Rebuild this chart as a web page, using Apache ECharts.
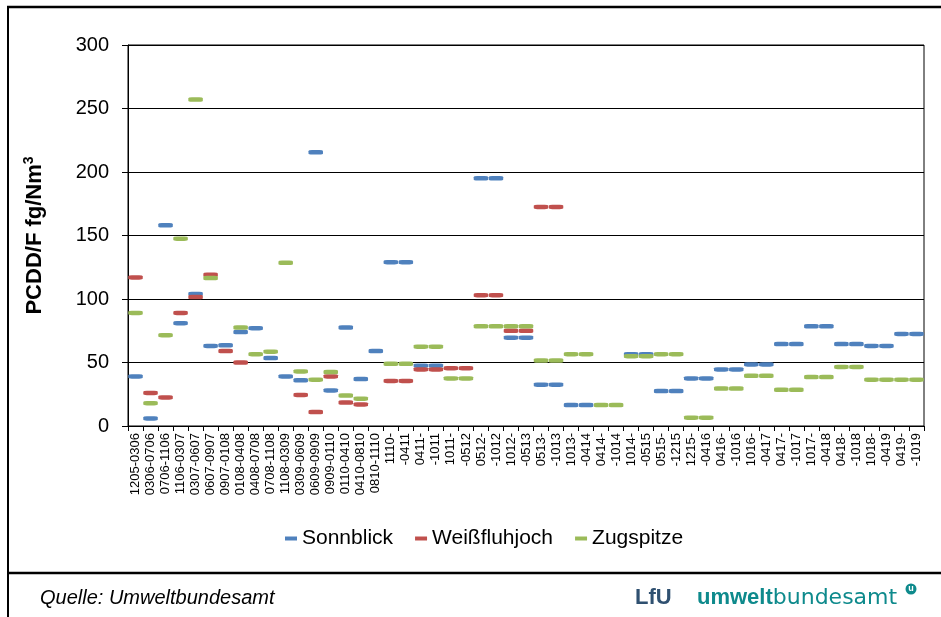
<!DOCTYPE html>
<html>
<head>
<meta charset="utf-8">
<script src="https://cdn.jsdelivr.net/npm/echarts@6/dist/echarts.min.js"></script>
<style>html,body{margin:0;padding:0;background:#fff;}#c{width:941px;height:617px;}</style>
</head>
<body>
<div id="c"></div>
<script>
const categories = [
  '1205-0306','0306-0706','0706-1106','1106-0307','0307-0607','0607-0907','0907-0108','0108-0408',
  '0408-0708','0708-1108','1108-0309','0309-0609','0609-0909','0909-0110','0110-0410','0410-0810',
  '0810-1110','1110-','-0411','0411-','-1011','1011-','-0512','0512-','-1012','1012-','-0513',
  '0513-','-1013','1013-','-0414','0414-','-1014','1014-','-0515','0515-','-1215','1215-','-0416',
  '0416-','-1016','1016-','-0417','0417-','-1017','1017-','-0418','0418-','-1018','1018-','-0419',
  '0419-','-1019'
];
const sonnblick = [
  39, 6, 158, 81, 104, 63, 63.5, 74, 77, 53.5, 39, 36, 215.5, 28, 77.5, 37, 59,
  129, 129, 47.5, 47.5, null, null, 195, 195, 69.5, 69.5, 32.5, 32.5, 16.5, 16.5,
  null, null, 56.5, 56.5, 27.5, 27.5, 37.5, 37.5, 44.5, 44.5, 48.5, 48.5, 64.5, 64.5,
  78.5, 78.5, 64.5, 64.5, 63, 63, 72.5, 72.5
];
const weissfluhjoch = [
  117, 26, 22.5, 89, 101.5, 119, 59, 50, null, null, null, 24.5, 11, 39, 18.5, 17, null,
  35.5, 35.5, 44.5, 44.5, 45.5, 45.5, 103, 103, 75, 75, 172.5, 172.5, null, null,
  null, null, null, null, null, null, null, null, null, null, null, null, null, null,
  null, null, null, null, null, null, null, null
];
const zugspitze = [
  89, 18, 71.5, 147.5, 257, 116.5, null, 77.5, 56.5, 58.5, 128.5, 43, 36.5, 42.5, 24, 21.5, null,
  49, 49, 62.5, 62.5, 37.5, 37.5, 78.5, 78.5, 78.5, 78.5, 51.5, 51.5, 56.5, 56.5,
  16.5, 16.5, 55, 55, 56.5, 56.5, 6.5, 6.5, 29.5, 29.5, 39.5, 39.5, 28.5, 28.5,
  38.5, 38.5, 46.5, 46.5, 36.5, 36.5, 36.5, 36.5
];
const yTicks = {min: 0, max: 300, interval: 50};

const chart = echarts.init(document.getElementById('c'), null, {renderer: 'canvas'});
const font = 'Liberation Sans, Arial, sans-serif';
function mk(name, data, color) {
  return {
    name: name, type: 'scatter', data: data,
    symbol: 'roundRect', symbolSize: [14.5, 4.5],
    itemStyle: {color: color, opacity: 1},
    emphasis: {disabled: true}, animation: false
  };
}
chart.setOption({
  backgroundColor: '#fff',
  animation: false,
  textStyle: {fontFamily: font},
  grid: {left: 128, right: 17, top: 45, bottom: 191, show: true, borderColor: '#000', borderWidth: 1, backgroundColor: 'transparent'},
  legend: {
    data: ['Sonnblick', 'Weißfluhjoch', 'Zugspitze'],
    left: 280, top: 523, icon: 'rect', itemWidth: 12, itemHeight: 4, itemGap: 22,
    textStyle: {fontSize: 21, color: '#000', fontFamily: font}
  },
  xAxis: {
    type: 'category', data: categories, boundaryGap: true,
    axisLine: {lineStyle: {color: '#000', width: 1}},
    axisTick: {show: true, interval: 0, length: 5, lineStyle: {color: '#000'}},
    axisLabel: {rotate: 90, interval: 0, fontSize: 13, color: '#000', margin: 7, fontFamily: font},
    splitLine: {show: false}
  },
  yAxis: {
    type: 'value', min: yTicks.min, max: yTicks.max, interval: yTicks.interval,
    name: '{a|PCDD/F fg/Nm}{s|3}', nameLocation: 'middle', nameGap: 80,
    nameTextStyle: {
      fontSize: 22, fontWeight: 'bold', color: '#000', fontFamily: font,
      rich: {
        a: {fontSize: 22, fontWeight: 'bold', color: '#000', fontFamily: font, lineHeight: 26},
        s: {fontSize: 14, fontWeight: 'bold', color: '#000', fontFamily: font, verticalAlign: 'top', lineHeight: 26, padding: [0, 0, 10, 0]}
      }
    },
    axisLine: {show: true, lineStyle: {color: '#000', width: 1}},
    axisTick: {show: true, length: 6, lineStyle: {color: '#000'}},
    axisLabel: {fontSize: 20, color: '#000', margin: 19, fontFamily: font},
    splitLine: {show: true, lineStyle: {color: '#000', width: 1}}
  },
  series: [
    mk('Sonnblick', sonnblick, '#4F81BD'),
    mk('Weißfluhjoch', weissfluhjoch, '#C0504D'),
    mk('Zugspitze', zugspitze, '#9BBB59')
  ],
  graphic: [
    {type: 'line', shape: {x1: 7, y1: 7, x2: 941, y2: 7}, style: {stroke: '#000', lineWidth: 2.5}},
    {type: 'line', shape: {x1: 8, y1: 6, x2: 8, y2: 617}, style: {stroke: '#000', lineWidth: 2}},
    {type: 'line', shape: {x1: 7, y1: 573, x2: 941, y2: 573}, style: {stroke: '#000', lineWidth: 2.5}},
    {type: 'text', left: 40, top: 588, style: {text: 'Quelle: Umweltbundesamt', font: 'italic 20px Liberation Sans, Arial, sans-serif', fill: '#000'}},
    {type: 'text', left: 635, top: 587, style: {text: 'LfU', font: 'bold 22px Liberation Sans, Arial, sans-serif', fill: '#2F5070'}},
    {type: 'text', left: 697, top: 587, style: {
      text: '{a|umwelt}{b|bundesamt}',
      rich: {
        a: {fontSize: 22, fontWeight: 'bold', fill: '#0E8A8C', fontFamily: font, lineHeight: 26, verticalAlign: 'bottom'},
        b: {fontSize: 22, fontWeight: 'normal', fill: '#0E8A8C', fontFamily: 'DejaVu Sans, sans-serif', lineHeight: 26, verticalAlign: 'bottom'}
      }
    }},
    {type: 'circle', shape: {cx: 911, cy: 589, r: 5.5}, style: {fill: '#0E8A8C'}},
    {type: 'text', x: 911, y: 589, style: {text: 'u', font: 'bold 9px Liberation Sans, Arial', fill: '#fff', align: 'center', verticalAlign: 'middle'}}
  ]
});
</script>
</body>
</html>
